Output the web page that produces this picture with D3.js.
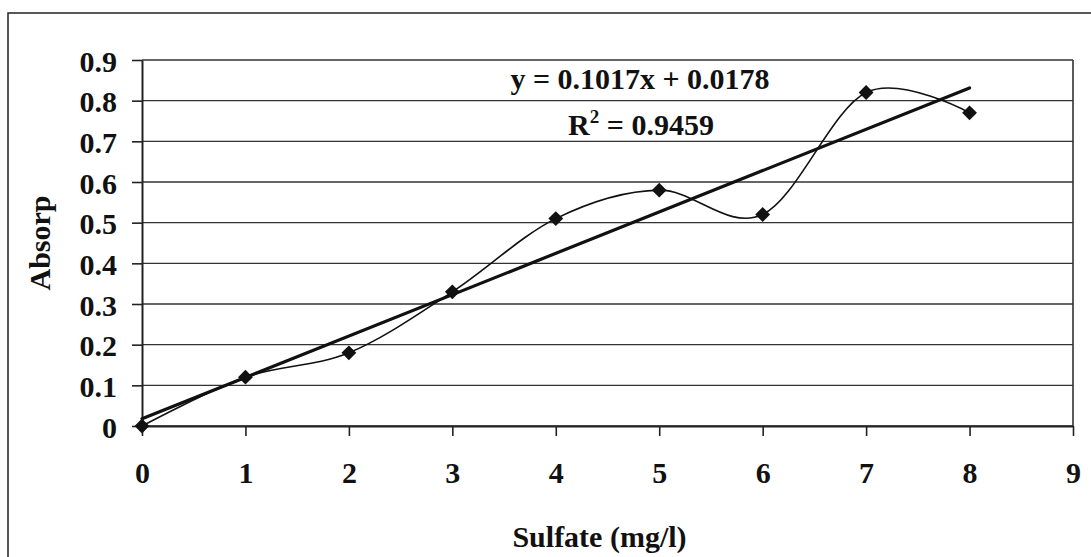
<!DOCTYPE html>
<html>
<head>
<meta charset="utf-8">
<script src="https://cdn.jsdelivr.net/npm/d3@7"></script>
<style>
  body { margin: 0; background: #fff; }
  text { font-family: "Liberation Serif", "Times New Roman", serif; font-weight: bold; fill: #111; }
</style>
</head>
<body>
<div id="chart"></div>
<script>
// data
var sulfate = [0, 1, 2, 3, 4, 5, 6, 7, 8];
var absorp = [0, 0.12, 0.18, 0.33, 0.51, 0.58, 0.52, 0.82, 0.77];
var xTicks = [0, 1, 2, 3, 4, 5, 6, 7, 8, 9];
var yTicks = [0, 0.1, 0.2, 0.3, 0.4, 0.5, 0.6, 0.7, 0.8, 0.9];
var trendSlope = 0.1017,
    trendIntercept = 0.0178,
    rSquared = 0.9459;

var W = 1091, H = 557;
var margin = {top: 60, right: 18, bottom: 131, left: 142},
    width = W - margin.left - margin.right,
    height = H - margin.top - margin.bottom;

var fontSize = 30;

var svg = d3.select("#chart").append("svg")
    .attr("width", W)
    .attr("height", H);

// chart area frame (runs off the right and bottom edges)
svg.append("rect")
    .attr("x", 8).attr("y", 13)
    .attr("width", W + 20).attr("height", H + 20)
    .attr("fill", "none")
    .attr("stroke", "#222")
    .attr("stroke-width", 1.5);

var g = svg.append("g")
    .attr("transform", "translate(" + margin.left + "," + margin.top + ")");

var x = d3.scaleLinear().domain([0, 9]).range([0, width]);
var y = d3.scaleLinear().domain([0, 0.9]).range([height, 0]);

// gridlines
g.append("g")
  .selectAll("line")
  .data(yTicks)
  .enter().append("line")
    .attr("x1", 0).attr("x2", width)
    .attr("y1", function(d) { return y(d); })
    .attr("y2", function(d) { return y(d); })
    .attr("stroke", "#333")
    .attr("stroke-width", 1.4);

// right edge of plot area
g.append("line")
    .attr("x1", width).attr("x2", width)
    .attr("y1", 0).attr("y2", height)
    .attr("stroke", "#333")
    .attr("stroke-width", 1.6);

// axes
var yAxis = g.append("g")
    .call(d3.axisLeft(y).tickValues(yTicks).tickSize(10).tickSizeOuter(0)
      .tickFormat(function(d) { return d3.format("")(+d.toFixed(1)); }));

var xAxis = g.append("g")
    .attr("transform", "translate(0," + height + ")")
    .call(d3.axisBottom(x).tickValues(xTicks).tickSize(10).tickSizeOuter(0));

[xAxis, yAxis].forEach(function(ax) {
  ax.select(".domain").attr("stroke", "#222").attr("stroke-width", 2);
  ax.selectAll(".tick line").attr("stroke", "#222").attr("stroke-width", 1.6);
});

yAxis.selectAll(".tick text")
    .attr("x", -25).attr("dy", 11)
    .attr("font-size", fontSize)
    .attr("text-anchor", "end");

xAxis.selectAll(".tick text")
    .attr("y", 57).attr("dy", 0)
    .attr("font-size", fontSize)
    .attr("text-anchor", "middle");

// linear trendline from the fitted equation
g.append("line")
    .attr("x1", x(0)).attr("y1", y(trendIntercept))
    .attr("x2", x(8)).attr("y2", y(trendSlope * 8 + trendIntercept))
    .attr("stroke", "#111")
    .attr("stroke-width", 3.2)
    .attr("stroke-linecap", "round");

// smoothed series line
var pts = sulfate.map(function(d, i) { return [d, absorp[i]]; });

var line = d3.line()
    .x(function(d) { return x(d[0]); })
    .y(function(d) { return y(d[1]); })
    .curve(d3.curveCardinal.tension(0));

g.append("path")
    .datum(pts)
    .attr("d", line)
    .attr("fill", "none")
    .attr("stroke", "#111")
    .attr("stroke-width", 1.6);

// diamond markers
g.selectAll("path.marker")
    .data(pts)
  .enter().append("path")
    .attr("class", "marker")
    .attr("d", d3.symbol().type(d3.symbolDiamond2).size(140))
    .attr("transform", function(d) { return "translate(" + x(d[0]) + "," + y(d[1]) + ")"; })
    .attr("fill", "#111");

// trendline label
g.append("text")
    .attr("x", 640 - margin.left)
    .attr("y", 89 - margin.top)
    .attr("text-anchor", "middle")
    .attr("font-size", fontSize)
    .text("y = " + trendSlope + "x + " + trendIntercept);

var r2text = g.append("text")
    .attr("x", 641 - margin.left)
    .attr("y", 135 - margin.top)
    .attr("text-anchor", "middle")
    .attr("font-size", fontSize);
r2text.append("tspan").text("R");
r2text.append("tspan").attr("dy", -12).attr("font-size", 19).text("2");
r2text.append("tspan").attr("dy", 12).text(" = " + rSquared);

// axis titles
svg.append("text")
    .attr("x", margin.left + width / 2 - 8)
    .attr("y", 547)
    .attr("text-anchor", "middle")
    .attr("font-size", fontSize)
    .text("Sulfate (mg/l)");

svg.append("text")
    .attr("transform", "translate(50," + (margin.top + height / 2) + ") rotate(-90)")
    .attr("text-anchor", "middle")
    .attr("font-size", fontSize)
    .text("Absorp");
</script>
</body>
</html>
